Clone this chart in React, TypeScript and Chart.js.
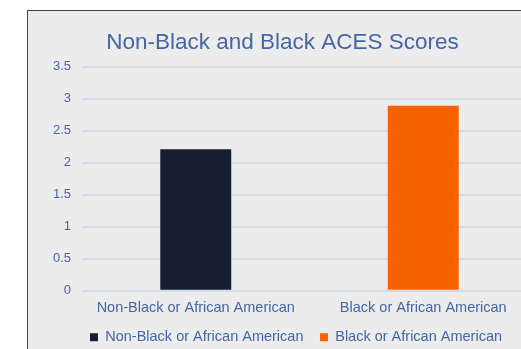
import React, { useEffect, useRef } from "react";
import { Chart, registerables } from "chart.js";

Chart.register(...registerables);

const chartTitle = "Non-Black and Black ACES Scores";
const categories = ["Non-Black or African American", "Black or African American"];
const scores = [2.21, 2.89];
const barColors = ["#151f31", "#f86300"];
const yMin = 0;
const yMax = 3.5;
const yStep = 0.5;

const FONT = "'Liberation Sans', Arial, Helvetica, sans-serif";
const TEXT_BLUE = "#4466a6";
const GRID = "#d2dcec";

export default function App() {
  const ref = useRef<HTMLCanvasElement>(null);

  useEffect(() => {
    document.body.style.margin = "0";
    document.body.style.overflow = "hidden";
    if (!ref.current) return;

    const titlePlugin = {
      id: "offsetTitle",
      afterDraw(chart: any) {
        const ctx = chart.ctx;
        ctx.save();
        ctx.font = `22.5px ${FONT}`;
        ctx.fillStyle = TEXT_BLUE;
        ctx.textAlign = "center";
        ctx.textBaseline = "middle";
        ctx.fillText(chartTitle, 254.5, 32);
        ctx.restore();
      },
    };

    const chart = new Chart(ref.current, {
      type: "bar",
      data: {
        labels: categories,
        datasets: categories.map((label, i) => ({
          label,
          data: scores.map((v, j) => (j === i ? v : null)),
          backgroundColor: barColors[i],
          borderColor: barColors[i],
          borderWidth: 0,
          barPercentage: 0.312,
          categoryPercentage: 1,
        })),
      },
      options: {
        responsive: false,
        animation: false,
        devicePixelRatio: 1,
        layout: {
          padding: { left: 0, right: 4, top: 55.7, bottom: 6.4 },
        },
        scales: {
          x: {
            stacked: true,
            grid: { display: false, drawTicks: false },
            border: { display: false },
            ticks: {
              color: TEXT_BLUE,
              padding: 8.6,
              font: { family: FONT, size: 14.5 },
              maxRotation: 0,
            },
            afterFit(scale: any) {
              scale.height = 22.9;
            },
          },
          y: {
            stacked: true,
            min: yMin,
            max: yMax,
            grid: { color: GRID, lineWidth: 2, drawTicks: false },
            border: { display: false },
            ticks: {
              stepSize: yStep,
              color: TEXT_BLUE,
              padding: 11,
              font: { family: FONT, size: 13 },
              callback: (v: any) => String(Number(v)),
            },
            afterFit(scale: any) {
              scale.width = 54;
            },
          },
          spacer: {
            type: "linear",
            position: "right",
            display: true,
            grid: { display: false, drawTicks: false },
            border: { display: false },
            ticks: { display: false },
            afterFit(scale: any) {
              scale.width = 27;
            },
          },
        },
        plugins: {
          title: { display: false },
          tooltip: { enabled: false },
          legend: {
            position: "bottom",
            labels: {
              boxWidth: 8,
              boxHeight: 8,
              padding: 16.5,
              color: TEXT_BLUE,
              font: { family: FONT, size: 14.5 },
            },
          },
        },
      },
      plugins: [titlePlugin],
    });

    return () => chart.destroy();
  }, []);

  return (
    <div
      style={{
        position: "fixed",
        left: 27,
        top: 10,
        width: 560,
        height: 360,
        background: "#ececec",
        borderTop: "1px solid #3a4254",
        borderLeft: "1px solid #3a4254",
        overflow: "hidden",
      }}
    >
      <canvas
        ref={ref}
        width={540}
        height={350}
        style={{ display: "block", width: 540, height: 350 }}
      />
    </div>
  );
}
